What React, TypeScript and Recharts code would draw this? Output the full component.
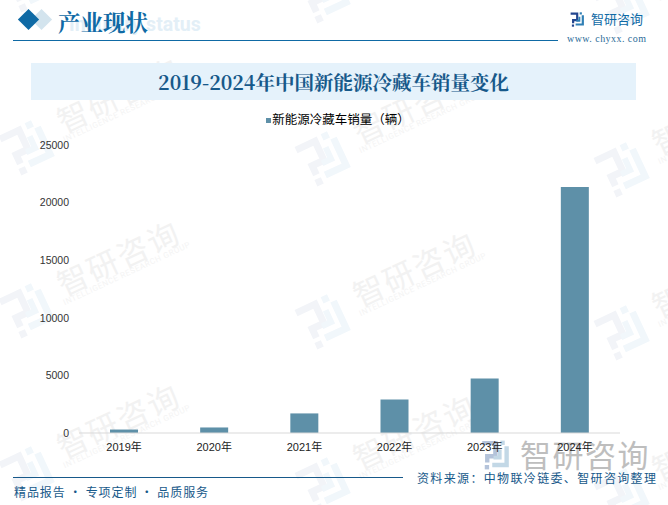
import { BarChart, Bar, XAxis, YAxis, Legend } from "recharts";

const years = ["2019年", "2020年", "2021年", "2022年", "2023年", "2024年"];
const sales = [300, 480, 1700, 2910, 4740, 21350];
const yTicks = [0, 5000, 10000, 15000, 20000, 25000];

const data = years.map((name, i) => ({ name, sales: sales[i] }));

const font = "'Noto Sans CJK SC', sans-serif";
const serif = "'Noto Serif CJK SC', 'Liberation Serif', 'Noto Sans CJK SC', serif";
const BLUE = "#0f6aa5";
const NAVY = "#17598a";

// centre of each watermark logo
const marks = [
  [28, -16], [28, 147], [28, 310], [28, 473],
  [324, -5], [324, 158], [324, 321], [324, 484],
  [623, 6], [623, 169], [623, 332], [623, 495],
];

function Logo({ size, left, right, dot }: { size: number; left: string; right: string; dot: string }) {
  return (
    <svg width={size} height={size} viewBox="0 0 48 48" style={{ display: "block" }}>
      <path d="M2 5 H23 V26 H10 V36" fill="none" stroke={left} strokeWidth={7} />
      <rect x={6} y={40} width={7} height={7} fill={dot} />
      <rect x={31} y={1} width={7} height={7} fill={right} />
      <path d="M41 10 V40 H18" fill="none" stroke={right} strokeWidth={7} />
      <path d="M30 15 V28 H20" fill="none" stroke={right} strokeWidth={6} />
    </svg>
  );
}

function Watermark({ x, y }: { x: number; y: number }) {
  return (
    <>
      <div style={{ position: "absolute", left: x - 24, top: y - 24, transform: "rotate(-25deg)" }}>
        <Logo size={48} left="#f2f4f8" right="#f1f7fb" dot="#f2f4f8" />
      </div>
      <div style={{ position: "absolute", left: x + 90 - 100, top: y - 53 - 18, width: 200, textAlign: "center", transform: "rotate(-25deg)", color: "#f2f2f2", fontSize: 31, lineHeight: "36px", letterSpacing: 2, whiteSpace: "nowrap" }}>智研咨询</div>
      <div style={{ position: "absolute", left: x + 99 - 100, top: y - 36 - 6, width: 200, textAlign: "center", transform: "rotate(-25deg)", color: "#f4f4f4", fontSize: 8, lineHeight: "12px", letterSpacing: 0.6, whiteSpace: "nowrap", fontFamily: "Roboto" }}>INTELLIGENCE RESEARCH GROUP</div>
    </>
  );
}

export default function App() {
  return (
    <div style={{ position: "absolute", left: 0, top: 0, width: 668, height: 505, overflow: "hidden", background: "#fff", fontFamily: font }}>
      {marks.map(([x, y], i) => <Watermark key={i} x={x} y={y} />)}

      <div style={{ position: "absolute", left: 34, top: 11.5, width: 15, height: 15, background: "#d3e4ee", transform: "rotate(45deg)" }} />
      <div style={{ position: "absolute", left: 21, top: 11.5, width: 15, height: 15, background: BLUE, transform: "rotate(45deg)" }} />
      <div style={{ position: "absolute", left: 69, top: 14, fontSize: 19.5, lineHeight: "22px", fontWeight: 700, color: "#e3eff7", fontFamily: "Roboto" }}>Industry status</div>
      <div style={{ position: "absolute", left: 58, top: 5, fontSize: 22.5, lineHeight: "32px", fontWeight: 700, color: BLUE, fontFamily: serif }}>产业现状</div>
      <div style={{ position: "absolute", left: 13, top: 40, width: 545, height: 1, background: BLUE }} />
      <div style={{ position: "absolute", left: 591, top: 10, fontSize: 13, lineHeight: "18px", color: BLUE }}>智研咨询</div>
      <div style={{ position: "absolute", left: 570, top: 12 }}>
        <Logo size={15} left="#23468f" right="#2f7fb5" dot="#23468f" />
      </div>
      <div style={{ position: "absolute", left: 567, top: 33, fontSize: 10, lineHeight: "12px", color: "#2b6c98", fontFamily: "'Liberation Serif', serif", letterSpacing: 0.45 }}>www. chyxx. com</div>

      <div style={{ position: "absolute", left: 31, top: 63, width: 605, height: 37, background: "#e5f2fb", textAlign: "center", fontSize: 19.5, lineHeight: "39px", fontWeight: 700, color: NAVY, fontFamily: serif }}>
        2019-2024年中国新能源冷藏车销量变化
      </div>

      <div style={{ position: "absolute", left: 481, top: 440 }}>
        <Logo size={30} left="#b4c3da" right="#c3d8e6" dot="#b4c3da" />
      </div>
      <div style={{ position: "absolute", left: 520, top: 436, fontSize: 31, lineHeight: "36px", letterSpacing: 1.5, color: "#a9a9a9", opacity: 0.75, whiteSpace: "nowrap" }}>智研咨询</div>

      <div style={{ position: "absolute", left: 0, top: 0 }}>
        <BarChart width={668} height={505} data={data} margin={{ top: 125, right: 48, bottom: 42, left: 19 }} barSize={28}>
          <Legend
            verticalAlign="top"
            align="center"
            iconType="square"
            iconSize={5}
            wrapperStyle={{ top: 109, left: 9, width: 668, fontSize: 12.5, lineHeight: "20px", color: "#000" }}
            formatter={(v) => <span style={{ color: "#000", marginLeft: -3 }}>{v}</span>}
          />
          <XAxis
            dataKey="name"
            axisLine={{ stroke: "#d9d9d9" }}
            tickLine={false}
            tick={{ fontSize: 11, fill: "#222", fontFamily: "'Liberation Sans', 'Noto Sans CJK SC', sans-serif" }}
            tickMargin={4}
          />
          <YAxis
            width={60}
            ticks={yTicks}
            domain={[0, 25000]}
            axisLine={false}
            tickLine={false}
            interval={0}
            tick={{ fontSize: 10.5, fill: "#333", fontFamily: "'Liberation Sans', sans-serif" }}
            tickMargin={4}
          />
          <Bar dataKey="sales" name="新能源冷藏车销量（辆）" fill="#5e90a8" isAnimationActive={false} />
        </BarChart>
      </div>

      <div style={{ position: "absolute", left: 13, top: 477, width: 390, height: 1, background: NAVY }} />
      <div style={{ position: "absolute", left: 14, top: 483, fontSize: 12, lineHeight: "18px", letterSpacing: 0.9, color: NAVY }}>精品报告 · 专项定制 · 品质服务</div>
      <div style={{ position: "absolute", left: 417, top: 469, fontSize: 12, lineHeight: "18px", letterSpacing: 1.35, color: NAVY, whiteSpace: "nowrap" }}>资料来源：中物联冷链委、智研咨询整理</div>
    </div>
  );
}
